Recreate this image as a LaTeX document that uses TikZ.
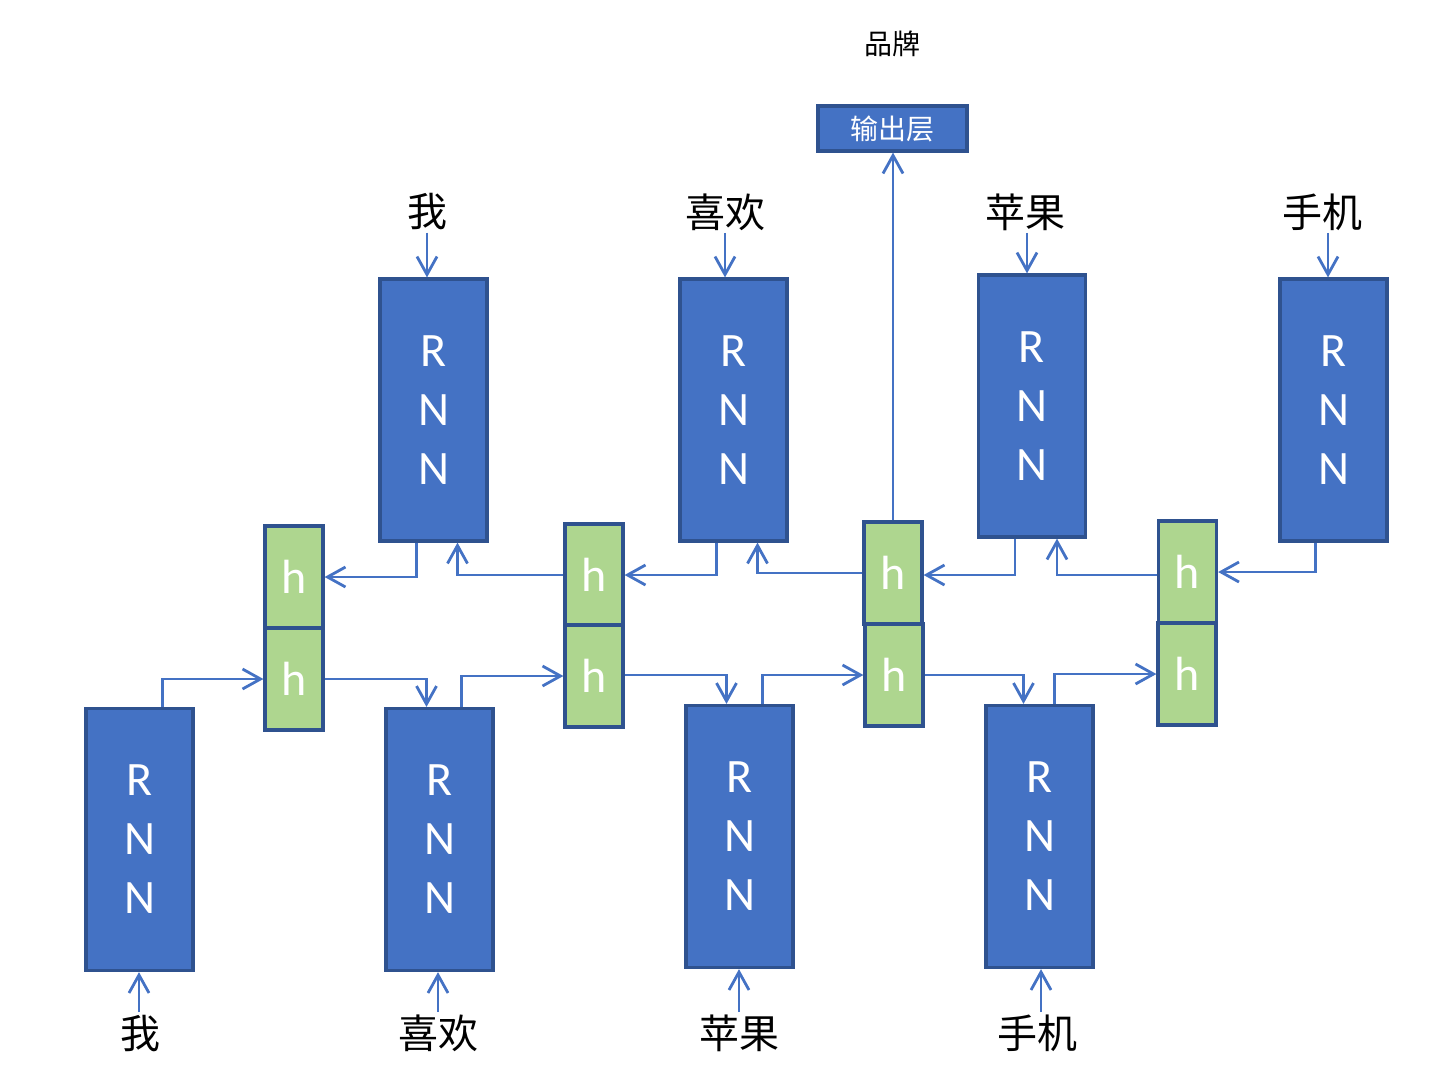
\documentclass[tikz,border=0pt]{standalone}
\usepackage{fontspec}
\setmainfont{Carlito}
\newfontfamily\cjk{Noto Sans CJK SC}
\usetikzlibrary{arrows.meta,calc}
\definecolor{rnnfill}{HTML}{4472C4}
\definecolor{rnnline}{HTML}{2F528F}
\definecolor{hfill}{HTML}{AED68F}
\definecolor{conncol}{HTML}{4472C4}
\tikzset{
  rnn/.style={draw=rnnline, fill=rnnfill, line width=1.6pt, minimum width=53.5pt, minimum height=131pt,
    inner sep=0pt, text=white, align=center, font=\fontsize{24}{29.5}\selectfont},
  hbox/.style={draw=rnnline, fill=hfill, line width=1.6pt, minimum width=29pt, minimum height=51pt,
    inner sep=0pt, text=white, font=\fontsize{24}{28}\selectfont},
  outbox/.style={draw=rnnline, fill=rnnfill, line width=1.6pt, minimum width=74.5pt, minimum height=22.5pt,
    inner sep=0pt, text=white, font=\cjk\fontsize{14}{16}\selectfont},
  lab/.style={inner sep=1pt, font=\cjk\fontsize{20}{23}\selectfont},
  conn/.style={draw=conncol, line width=1.4pt, -{Straight Barb[length=9pt,width=10pt,line width=1.4pt]}},
}
\begin{document}
\begin{tikzpicture}[x=0.5pt,y=-0.5pt]
\useasboundingbox (0,0) rectangle (1434,1084);
% top RNNs
\node[rnn] (T1) at (433.5,410) {R\\N\\N};
\node[rnn] (T2) at (733.5,410) {R\\N\\N};
\node[rnn] (T3) at (1032,406) {R\\N\\N};
\node[rnn] (T4) at (1333.5,410) {R\\N\\N};
% bottom RNNs
\node[rnn] (B1) at (139.5,839.5) {R\\N\\N};
\node[rnn] (B2) at (439.5,839.5) {R\\N\\N};
\node[rnn] (B3) at (739.5,836.5) {R\\N\\N};
\node[rnn] (B4) at (1039.5,836.5) {R\\N\\N};
% h boxes
\node[hbox] (h1u) at (294,577) {h};
\node[hbox] (h1l) at (294,679) {h};
\node[hbox] (h2u) at (594,575) {h};
\node[hbox] (h2l) at (594,676) {h};
\node[hbox] (h3u) at (893,573) {h};
\node[hbox] (h3l) at (894,675) {h};
\node[hbox] (h4u) at (1187.5,572) {h};
\node[hbox] (h4l) at (1187,674) {h};
% output
\node[outbox] (out) at (892.5,128.5) {输出层};
\node[inner sep=1pt, font=\cjk\fontsize{14}{16}\selectfont] (brand) at (892,44) {品牌};
% labels top
\node[lab] (tl1) at (427,212) {我};
\node[lab] (tl2) at (725,212) {喜欢};
\node[lab] (tl3) at (1025,212) {苹果};
\node[lab] (tl4) at (1322,212) {手机};
% labels bottom
\node[lab] (bl1) at (140,1033) {我};
\node[lab] (bl2) at (438,1033) {喜欢};
\node[lab] (bl3) at (739,1033) {苹果};
\node[lab] (bl4) at (1037,1033) {手机};
% top input arrows
\draw[conn] (tl1.south) -- (tl1.south |- T1.north);
\draw[conn] (tl2.south) -- (tl2.south |- T2.north);
\draw[conn] ([xshift=1pt]tl3.south) -- ([xshift=1pt]tl3.south |- T3.north);
\draw[conn] ([xshift=3pt]tl4.south) -- ([xshift=3pt]tl4.south |- T4.north);
% bottom input arrows
\draw[conn] ([xshift=-0.5pt]bl1.north) -- ([xshift=-0.5pt]bl1.north |- B1.south);
\draw[conn] (bl2.north) -- (bl2.north |- B2.south);
\draw[conn] (bl3.north) -- (bl3.north |- B3.south);
\draw[conn] ([xshift=2pt]bl4.north) -- ([xshift=2pt]bl4.north |- B4.south);
% output arrow
\draw[conn] (h3u.north) -- (h3u.north |- out.south);
% upper (backward) connections
\draw[conn] ($(T1.south)+(-17,0)$) |- (h1u.east);
\draw[conn] (h2u.west) -| ($(T1.south)+(24,0)$);
\draw[conn] ($(T2.south)+(-17,0)$) |- (h2u.east);
\draw[conn] (h3u.west) -| ($(T2.south)+(24,0)$);
\draw[conn] ($(T3.south)+(-17,0)$) |- ([yshift=-1pt]h3u.east);
\draw[conn] ([yshift=-1.5pt]h4u.west) -| ($(T3.south)+(25,0)$);
\draw[conn] ($(T4.south)+(-18,0)$) |- (h4u.east);
% lower (forward) connections
\draw[conn] ($(B1.north)+(23,0)$) |- (h1l.west);
\draw[conn] (h1l.east) -| ($(B2.north)+(-13,0)$);
\draw[conn] ($(B2.north)+(22,0)$) |- (h2l.west);
\draw[conn] ([yshift=0.5pt]h2l.east) -| ($(B3.north)+(-13,0)$);
\draw[conn] ($(B3.north)+(23,0)$) |- (h3l.west);
\draw[conn] (h3l.east) -| ($(B4.north)+(-16,0)$);
\draw[conn] ($(B4.north)+(15,0)$) |- (h4l.west);
\end{tikzpicture}
\end{document}
